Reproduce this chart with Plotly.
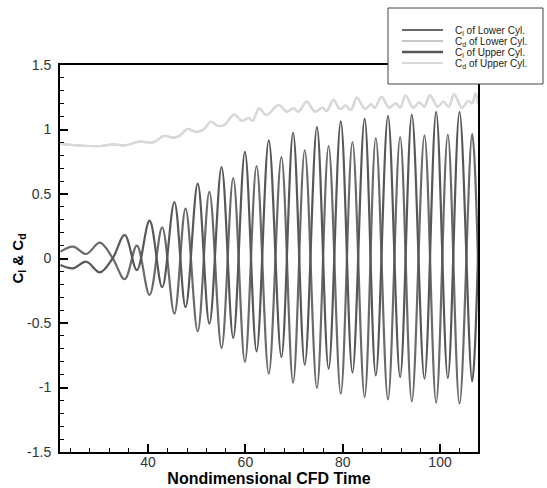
import plotly.graph_objects as go

# ---- data (extrema of the lift curves, samples of drag) ----
t_cl_lower = [22.0, 24.6, 27.3, 30.1, 32.7, 35.2, 37.7, 40.3, 42.9, 45.4, 47.7, 50.2, 52.6,
              55.1, 57.5, 59.9, 62.3, 64.8, 67.4, 69.8, 72.2, 74.7, 77.1, 79.6, 82.0, 84.5,
              86.8, 89.3, 91.8, 94.2, 96.8, 99.2, 101.6, 104.0, 106.6, 108.0]
cl_lower = [0.053, 0.092, 0.035, 0.123, 0.004, -0.161, 0.10, -0.283, 0.242, -0.428, 0.386,
            -0.564, 0.516, -0.694, 0.624, -0.802, 0.717, -0.893, 0.787, -0.963, 0.839,
            -1.004, 0.872, -1.048, 0.903, -1.074, 0.934, -1.092, 0.942, -1.107, 0.955,
            -1.118, 0.96, -1.126, 0.967, -0.3]

t_cl_upper = t_cl_lower
cl_upper = [-0.05, -0.076, -0.025, -0.107, 0.0, 0.182, -0.09, 0.293, -0.223, 0.438, -0.376,
            0.58, -0.505, 0.709, -0.616, 0.826, -0.72, 0.916, -0.764, 0.975, -0.823,
            1.019, -0.854, 1.063, -0.885, 1.084, -0.906, 1.105, -0.919, 1.115, -0.932,
            1.136, -0.926, 1.136, -0.952, 0.3]

t_cd = [22, 25.6, 30.4, 32.8, 35.2, 38.3, 41.0, 43.3, 45.1, 46.5, 48.1, 49.6, 51.3, 52.9,
        54.4, 55.8, 57.7, 59.3, 60.7, 61.5, 62.8, 64.3, 66.8, 68.5, 69.9, 70.9, 72.6, 74.3,
        75.8, 76.7, 78.1, 79.4, 80.6, 81.7, 82.9, 84.6, 85.8, 86.6, 88.0, 89.5, 90.9, 91.8,
        92.9, 94.5, 95.7, 96.8, 97.9, 99.5, 100.7, 101.8, 102.9, 104.5, 105.8, 106.6,
        107.3, 107.8]
cd_lower = [0.888, 0.877, 0.872, 0.885, 0.877, 0.906, 0.90, 0.95, 0.937, 0.952, 1.004, 0.983,
            0.996, 1.06, 1.027, 1.04, 1.115, 1.066, 1.089, 1.068, 1.164, 1.112, 1.19, 1.138,
            1.164, 1.138, 1.216, 1.138, 1.169, 1.143, 1.229, 1.159, 1.185, 1.151, 1.247,
            1.159, 1.195, 1.169, 1.254, 1.169, 1.203, 1.169, 1.262, 1.169, 1.21, 1.177,
            1.267, 1.177, 1.216, 1.177, 1.273, 1.169, 1.221, 1.203, 1.28, 1.2]
cd_upper = list(cd_lower)

x_tick_vals = [40, 60, 80, 100]
x_tick_text = ["40", "60", "80", "100"]
y_tick_vals = [-1.5, -1, -0.5, 0, 0.5, 1, 1.5]
y_tick_text = ["-1.5", "-1", "-0.5", "0", "0.5", "1", "1.5"]

names = ["C<sub>l</sub> of Lower Cyl.", "C<sub>d</sub> of Lower Cyl.",
         "C<sub>l</sub> of Upper Cyl.", "C<sub>d</sub> of Upper Cyl."]
colors = ["#6a6a6a", "#c6c6c6", "#575757", "#d9d9d9"]
widths = [2, 2, 2.5, 2]

series = [(t_cl_lower, cl_lower), (t_cd, cd_lower), (t_cl_upper, cl_upper), (t_cd, cd_upper)]

fig = go.Figure()
for (xs, ys), nm, c, w in zip(series, names, colors, widths):
    fig.add_trace(go.Scatter(x=xs, y=ys, mode="lines", name=nm, showlegend=False,
                             line=dict(color=c, width=2.2, shape="spline", smoothing=1.0)))

# ---- hand-drawn legend box (matches the compact Tecplot-style legend) ----
L, R, T, B = 60, 478, 65, 452          # plot-area pixel edges
def px(x):
    return (x - L) / (R - L)
def py(y):
    return (B - y) / (B - T)

shapes = [dict(type="rect", xref="paper", yref="paper",
               x0=px(388), x1=px(543), y0=py(84), y1=py(8),
               line=dict(color="#444", width=1), fillcolor="white", layer="above")]
annotations = []
row_y = [30.0, 41.0, 52.0, 63.0]
for nm, c, w, ry in zip(names, colors, widths, row_y):
    shapes.append(dict(type="line", xref="paper", yref="paper",
                       x0=px(402), x1=px(443), y0=py(ry), y1=py(ry),
                       line=dict(color=c, width=w), layer="above"))
    annotations.append(dict(xref="paper", yref="paper", x=px(453), y=py(ry + 0.5),
                            text=nm, showarrow=False, xanchor="left", yanchor="middle",
                            font=dict(size=10, color="#222",
                                      family="Arial, Liberation Sans")))

axis_common = dict(showline=True, linecolor="black", linewidth=2, mirror=True,
                   showgrid=False, zeroline=False, ticks="inside", automargin=False,
                   tickcolor="black", tickwidth=2, ticklen=8, tickmode="array",
                   tickfont=dict(family="Arial, Liberation Sans", size=14, color="#333"))

fig.update_layout(
    width=547, height=488,
    margin=dict(l=L, r=547 - R, t=T, b=488 - B),
    paper_bgcolor="white", plot_bgcolor="white",
    font=dict(family="Arial, Liberation Sans", color="black"),
    showlegend=False,
    shapes=shapes,
    annotations=annotations,
    xaxis=dict(range=[21.9, 107.8], tickvals=x_tick_vals, ticktext=x_tick_text,
               minor=dict(tickmode="linear", dtick=4, tick0=0, ticks="inside", ticklen=4,
                          tickcolor="black", tickwidth=1),
               title=dict(text="<b>Nondimensional CFD Time</b>",
                          font=dict(size=16, color="black"), standoff=2),
               ticklabelstandoff=-4,
               **axis_common),
    yaxis=dict(range=[-1.5, 1.5], tickvals=y_tick_vals, ticktext=y_tick_text,
               minor=dict(tickmode="linear", dtick=0.1, tick0=0, ticks="inside", ticklen=4,
                          tickcolor="black", tickwidth=1),
               title=dict(text="<b>C<sub>l</sub> & C<sub>d</sub></b>",
                          font=dict(size=15, color="black"), standoff=0),
               ticklabelstandoff=4,
               **axis_common),
)

fig.write_html("out.html")
